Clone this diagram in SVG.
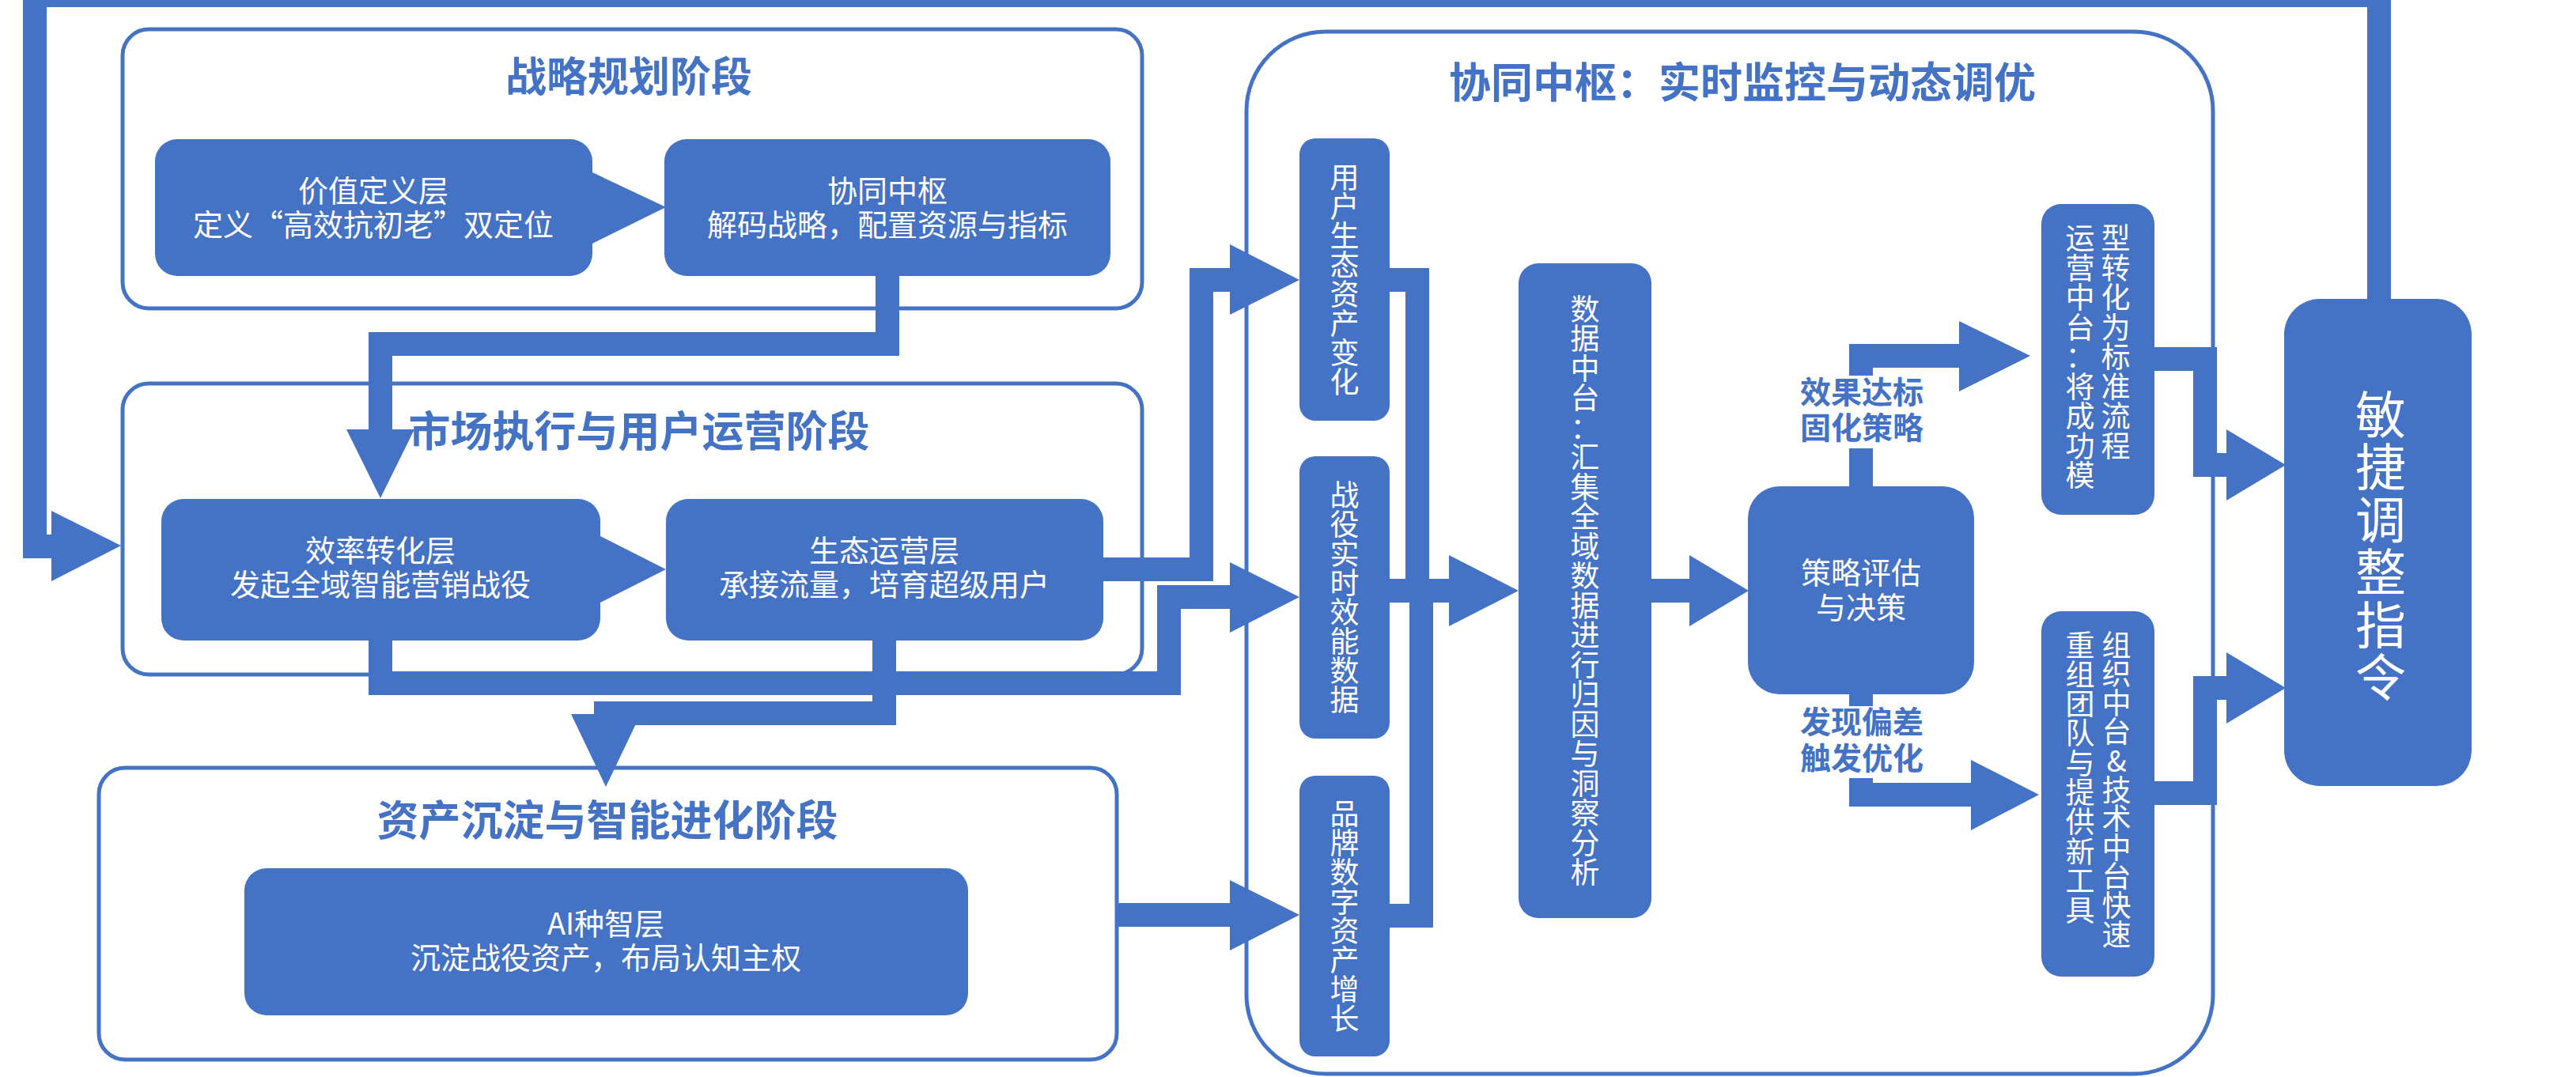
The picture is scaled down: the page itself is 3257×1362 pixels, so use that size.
<svg xmlns="http://www.w3.org/2000/svg" width="3257" height="1362" viewBox="0 0 3257 1362">
<style>
.pb{fill:#fff;stroke:#4472C4;stroke-width:5}
.nd{fill:#4472C4}
.c{fill:none;stroke:#4472C4;stroke-width:30;stroke-linejoin:miter}
.ah{fill:#4472C4}
text{font-family:"Noto Sans CJK SC","Noto Sans",sans-serif}
.t{fill:#fff;font-size:38px;text-anchor:middle}
.v{fill:#fff;font-size:37px;text-anchor:middle}
.vb{fill:#fff;font-size:64px;text-anchor:middle}
.h{fill:#4472C4;font-weight:bold;text-anchor:middle}
.l{fill:#4472C4;font-weight:bold;font-size:39px;text-anchor:middle}
</style>
<rect width="3257" height="1362" fill="#fff"/>
<g id="phase-strategy">
<rect class="pb" x="155" y="37" width="1289" height="353" rx="33"/>
<text class="h" x="795" y="116" font-size="52">战略规划阶段</text>
</g>
<g id="phase-market">
<rect class="pb" x="155" y="485" width="1289" height="368" rx="33"/>
<text class="h" x="808" y="565" font-size="53">市场执行与用户运营阶段</text>
</g>
<g id="phase-asset">
<rect class="pb" x="125" y="971" width="1287" height="369" rx="33"/>
<text class="h" x="768" y="1057" font-size="53">资产沉淀与智能进化阶段</text>
</g>
<g id="phase-hub">
<rect class="pb" x="1576" y="40" width="1222" height="1318" rx="100"/>
<text class="h" x="2203" y="124" font-size="53">协同中枢：实时监控与动态调优</text>
</g>
<g id="connectors">
<polygon class="ah" points="749,218 842,262 749,308"/>
<path class="c" d="M1122 349 V435 H481 V545"/>
<polygon class="ah" points="438,543 481,630 524,543"/>
<polygon class="ah" points="759,678 842,720 759,762"/>
<path class="c" d="M481 810 V864 H1478 V755 H1558"/>
<polygon class="ah" points="1555,711 1643,755 1555,800"/>
<path class="c" d="M1395 720 H1519 V354 H1558"/>
<polygon class="ah" points="1555,309 1643,354 1555,398"/>
<path class="c" d="M1118 810 V902 H766 V906"/>
<polygon class="ah" points="722,903 766,995 810,903"/>
<path class="c" d="M1413 1157 H1558"/>
<polygon class="ah" points="1555,1113 1643,1157 1555,1202"/>
<path class="c" d="M1757 354 H1792 V762 M1757 1158 H1797 V732 M1757 747 H1835"/>
<polygon class="ah" points="1832,702 1920,747 1832,792"/>
<path class="c" d="M2088 747 H2138"/>
<polygon class="ah" points="2136,702 2211,747 2136,792"/>
<path class="c" d="M2353 615 V567 M2353 475 V450 H2480"/>
<polygon class="ah" points="2477,406 2567,450 2477,495"/>
<path class="c" d="M2353 877 V893 M2353 984 V1005 H2495"/>
<polygon class="ah" points="2492,961 2578,1005 2492,1050"/>
<path class="c" d="M2724 454 H2788 V588 H2818"/>
<polygon class="ah" points="2815,543 2890,588 2815,633"/>
<path class="c" d="M2724 1003 H2788 V870 H2818"/>
<polygon class="ah" points="2815,825 2890,870 2815,915"/>
<path class="c" d="M3008 379 V-6 H44 V691 H68"/>
<polygon class="ah" points="65,646 153,690 65,735"/>
<text class="l"><tspan x="2354" y="510">效果达标</tspan><tspan x="2354" dy="45">固化策略</tspan></text>
<text class="l"><tspan x="2354" y="927">发现偏差</tspan><tspan x="2354" dy="46">触发优化</tspan></text>
</g>
<g id="node-value">
<rect class="nd" x="196" y="176" width="553" height="173" rx="28"/>
<text class="t"><tspan x="472" y="255">价值定义层</tspan><tspan x="472" dy="43">定义“高效抗初老”双定位</tspan></text>
</g>
<g id="node-hub-small">
<rect class="nd" x="840" y="176" width="564" height="173" rx="28"/>
<text class="t"><tspan x="1122" y="255">协同中枢</tspan><tspan x="1122" dy="43">解码战略，配置资源与指标</tspan></text>
</g>
<g id="node-efficiency">
<rect class="nd" x="204" y="631" width="555" height="179" rx="28"/>
<text class="t"><tspan x="481" y="710">效率转化层</tspan><tspan x="481" dy="43">发起全域智能营销战役</tspan></text>
</g>
<g id="node-ecology">
<rect class="nd" x="842" y="631" width="553" height="179" rx="28"/>
<text class="t"><tspan x="1118" y="710">生态运营层</tspan><tspan x="1118" dy="43">承接流量，培育超级用户</tspan></text>
</g>
<g id="node-ai">
<rect class="nd" x="309" y="1098" width="915" height="186" rx="28"/>
<text class="t"><tspan x="766" y="1182">AI种智层</tspan><tspan x="766" dy="43">沉淀战役资产，布局认知主权</tspan></text>
</g>
<g id="node-user-asset">
<rect class="nd" x="1643" y="175" width="114" height="357" rx="20"/>
<text class="v" x="1700 1700 1700 1700 1700 1700 1700 1700" y="238 275 312 349 386 423 460 497">用户生态资产变化</text>
</g>
<g id="node-campaign">
<rect class="nd" x="1643" y="577" width="114" height="357" rx="20"/>
<text class="v" x="1700 1700 1700 1700 1700 1700 1700 1700" y="640 677 714 751 788 825 862 899">战役实时效能数据</text>
</g>
<g id="node-brand">
<rect class="nd" x="1643" y="981" width="114" height="355" rx="20"/>
<text class="v" x="1700 1700 1700 1700 1700 1700 1700 1700" y="1043 1080 1117 1154 1191 1228 1265 1302">品牌数字资产增长</text>
</g>
<g id="node-data">
<rect class="nd" x="1920" y="333" width="168" height="828" rx="25"/>
<text class="v" x="2004 2004 2004 2004 2004 2004 2004 2004 2004 2004 2004 2004 2004 2004 2004 2004 2004 2004 2004 2004" y="405 442 480 517 555 592 630 667 705 742 780 817 855 892 930 967 1005 1042 1080 1117">数据中台：汇集全域数据进行归因与洞察分析</text>
</g>
<g id="node-decision">
<rect class="nd" x="2210" y="615" width="286" height="263" rx="40"/>
<text class="t"><tspan x="2353" y="738">策略评估</tspan><tspan x="2353" dy="44">与决策</tspan></text>
</g>
<g id="node-ops">
<rect class="nd" x="2581" y="258" width="143" height="393" rx="25"/>
<text class="v" x="2630 2630 2630 2630 2630 2630 2630 2630 2630" y="315 352.5 390 427.5 465 502.5 540 577.5 615">运营中台：将成功模</text>
<text class="v" x="2675 2675 2675 2675 2675 2675 2675 2675" y="315 352.5 390 427.5 465 502.5 540 577.5">型转化为标准流程</text>
</g>
<g id="node-org">
<rect class="nd" x="2581" y="773" width="143" height="462" rx="25"/>
<text class="v" x="2676 2676 2676 2676 2676 2676 2676 2676 2676 2676 2676" y="829.5 866.1 902.7 939.3 975.9 1012.5 1049.1 1085.7 1122.3 1158.9 1195.5">组织中台&amp;技术中台快速</text>
<text class="v" x="2630 2630 2630 2630 2630 2630 2630 2630 2630 2630" y="829.5 866.8 904.1 941.4 978.7 1016 1053.3 1090.6 1127.9 1165.2">重组团队与提供新工具</text>
</g>
<g id="node-agile">
<rect class="nd" x="2888" y="378" width="237" height="616" rx="45"/>
<text class="vb" x="3010 3010 3010 3010 3010 3010" y="548 614 681 747 814 880">敏捷调整指令</text>
</g>
</svg>
